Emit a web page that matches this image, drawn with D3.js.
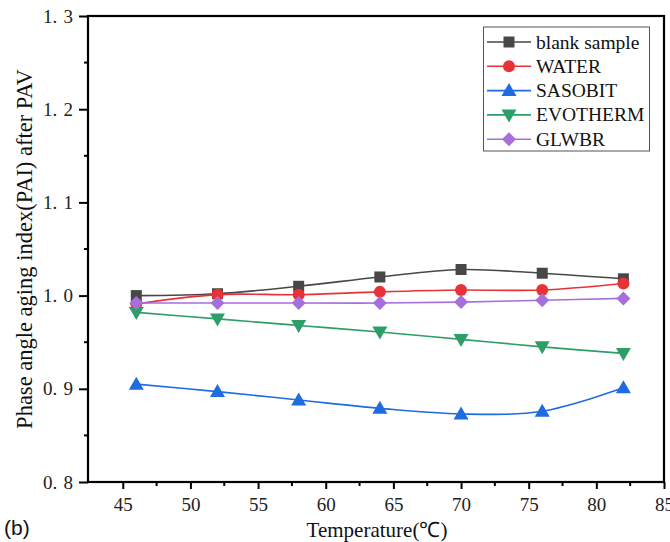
<!DOCTYPE html>
<html><head><meta charset="utf-8">
<script src="https://cdn.jsdelivr.net/npm/d3@7"></script>
<style>body{margin:0;background:#fff}svg{display:block}</style>
</head><body><svg id="c" width="670" height="542"></svg>
<script>
const temps = [46, 52, 58, 64, 70, 76, 82];
const blank = [1.000, 1.002, 1.010, 1.020, 1.028, 1.024, 1.018];
const water = [0.991, 1.001, 1.001, 1.004, 1.006, 1.006, 1.013];
const sasobit = [0.905, 0.897, 0.888, 0.879, 0.873, 0.876, 0.901];
const evotherm = [0.982, 0.975, 0.968, 0.961, 0.953, 0.945, 0.938];
const glwbr = [0.992, 0.992, 0.992, 0.992, 0.993, 0.995, 0.997];
const seriesNames = ["blank sample", "WATER", "SASOBIT", "EVOTHERM", "GLWBR"];
const seriesColors = ["#474747", "#e83238", "#1f6be0", "#2e9e68", "#a76fdc"];
const seriesSymbols = ["square", "circle", "triangle", "triangleDown", "diamond"];
const xTicks = [45, 50, 55, 60, 65, 70, 75, 80, 85];
const yTicks = [0.8, 0.9, 1.0, 1.1, 1.2, 1.3];
const yTickLabels = ["0. 8", "0. 9", "1. 0", "1. 1", "1. 2", "1. 3"];

const allSeries = [blank, water, sasobit, evotherm, glwbr];
const svg = d3.select("#c");
const L = 88, R = 664, T = 16, B = 482;
const x = d3.scaleLinear().domain([42.43, 85]).range([L, R]);
const y = d3.scaleLinear().domain([0.8, 1.3]).range([B, T]);
const serif = "'Liberation Serif','Times New Roman',serif";

function marker(g, type, cx, cy, color) {
  if (type === "square") g.append("rect").attr("x", cx-5.5).attr("y", cy-5.5).attr("width", 11).attr("height", 11).attr("fill", color);
  else if (type === "circle") g.append("circle").attr("cx", cx).attr("cy", cy).attr("r", 6).attr("fill", color);
  else if (type === "triangle") g.append("path").attr("d", `M${cx},${cy-7.5}L${cx+7.5},${cy+5.5}L${cx-7.5},${cy+5.5}Z`).attr("fill", color);
  else if (type === "triangleDown") g.append("path").attr("d", `M${cx},${cy+7.5}L${cx+7.5},${cy-5.5}L${cx-7.5},${cy-5.5}Z`).attr("fill", color);
  else if (type === "diamond") g.append("path").attr("d", `M${cx},${cy-7}L${cx+7},${cy}L${cx},${cy+7}L${cx-7},${cy}Z`).attr("fill", color);
}

// axes
const xAxis = d3.axisBottom(x).tickValues(xTicks).tickSize(7).tickFormat(d3.format("d"));
const gx = svg.append("g").attr("transform", `translate(0,${B})`).call(xAxis);
const xMinor = d3.range(47.5, 85, 5);
svg.append("g").selectAll("line").data(xMinor).join("line")
  .attr("x1", d => x(d)).attr("x2", d => x(d)).attr("y1", B).attr("y2", B+4)
  .attr("stroke", "#000").attr("stroke-width", 2);
const yAxis = d3.axisLeft(y).tickValues(yTicks).tickSize(9)
  .tickFormat((d, i) => yTickLabels[i].replace(" ", "\u2004"));
const gy = svg.append("g").attr("transform", `translate(${L},0)`).call(yAxis);
const yMinor = [0.85, 0.95, 1.05, 1.15, 1.25];
svg.append("g").selectAll("line").data(yMinor).join("line")
  .attr("x1", L-4).attr("x2", L).attr("y1", d => y(d)).attr("y2", d => y(d))
  .attr("stroke", "#000").attr("stroke-width", 2);
[gx, gy].forEach(g => {
  g.select(".domain").remove();
  g.selectAll(".tick line").attr("stroke", "#000").attr("stroke-width", 2);
  g.selectAll(".tick text").attr("font-family", serif).attr("font-size", 19).attr("fill", "#222");
});
gx.selectAll(".tick text").attr("y", 16).attr("dy", "0.71em");
gy.selectAll(".tick text").attr("x", -15);

// frame
svg.append("rect").attr("x", L).attr("y", T).attr("width", R-L).attr("height", B-T)
  .attr("fill", "none").attr("stroke", "#000").attr("stroke-width", 2.2);

// lines
const line = d3.line().x((d, i) => x(temps[i])).y(d => y(d)).curve(d3.curveCatmullRom.alpha(0.5));
allSeries.forEach((s, k) => {
  svg.append("path").attr("d", line(s)).attr("fill", "none")
    .attr("stroke", seriesColors[k]).attr("stroke-width", 1.6);
});
allSeries.forEach((s, k) => {
  const g = svg.append("g");
  s.forEach((v, i) => marker(g, seriesSymbols[k], x(temps[i]), y(v), seriesColors[k]));
});

// legend
const lg = svg.append("g");
lg.append("rect").attr("x", 483.5).attr("y", 27).attr("width", 166).attr("height", 124)
  .attr("fill", "#fff").attr("stroke", "#555").attr("stroke-width", 1);
seriesNames.forEach((n, k) => {
  const yy = 42 + k * 24.3;
  lg.append("line").attr("x1", 487).attr("x2", 531).attr("y1", yy).attr("y2", yy)
    .attr("stroke", seriesColors[k]).attr("stroke-width", 1.6);
  marker(lg, seriesSymbols[k], 509, yy, seriesColors[k]);
  lg.append("text").attr("x", 536).attr("y", yy + 6.5).attr("font-family", serif)
    .attr("font-size", 19.5).attr("fill", "#111").text(n);
});

// labels
svg.append("text").attr("x", 377).attr("y", 537).attr("text-anchor", "middle")
  .attr("font-family", serif).attr("font-size", 21).attr("fill", "#111").text("Temperature(℃)");
svg.append("text").attr("transform", `translate(32,${(T+B)/2}) rotate(-90)`).attr("text-anchor", "middle")
  .attr("font-family", serif).attr("font-size", 22.5).attr("fill", "#111").text("Phase angle aging index(PAI) after PAV");
svg.append("text").attr("x", 4).attr("y", 535).attr("font-family", "'Liberation Sans',Arial,sans-serif")
  .attr("font-size", 21).attr("fill", "#111").text("(b)");
</script></body></html>
